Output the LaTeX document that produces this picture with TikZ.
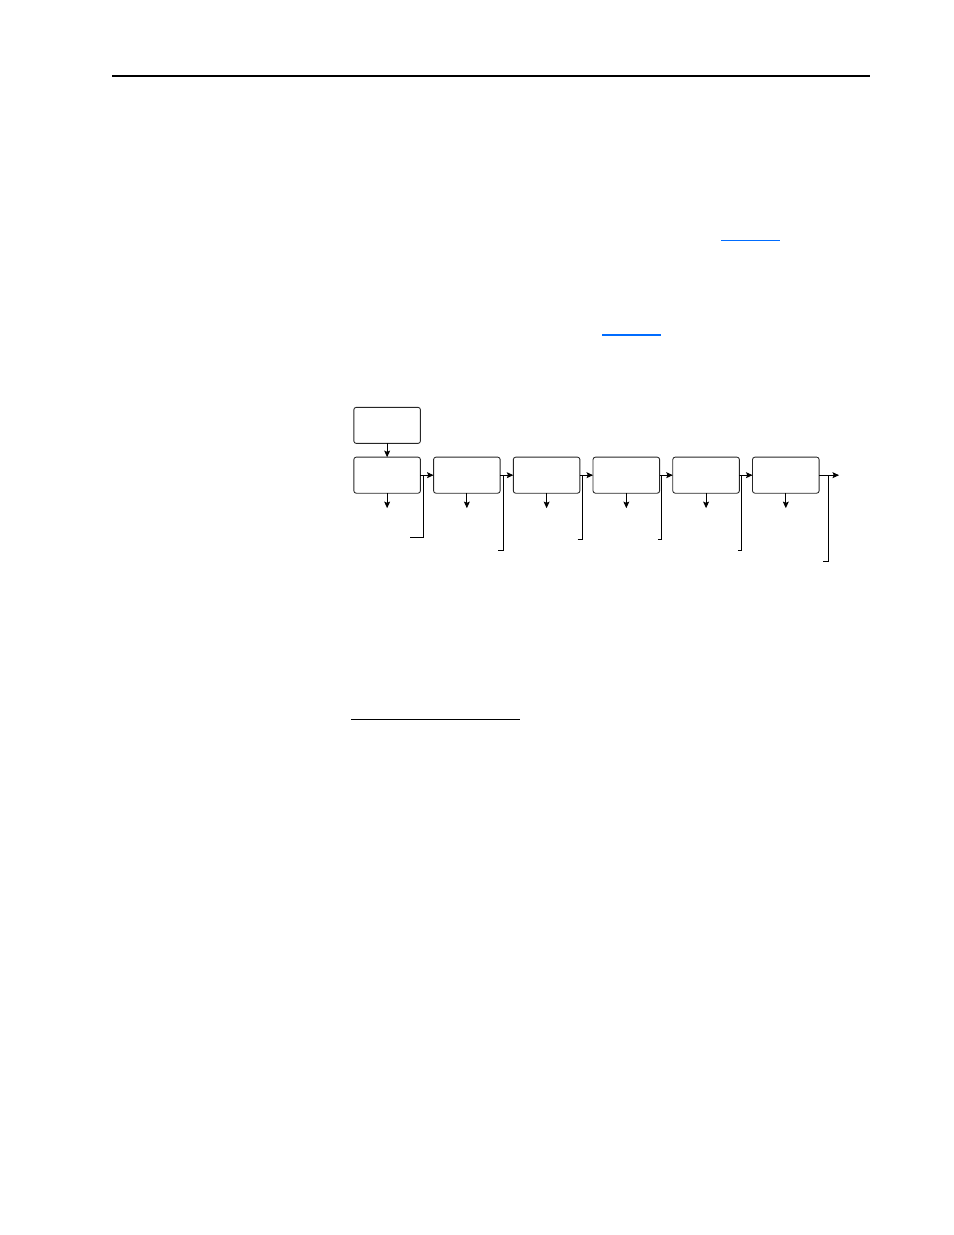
\documentclass[tikz,border=0pt]{standalone}
\usepackage{tikz}
\usetikzlibrary{matrix}
\usetikzlibrary{arrows.meta}
\definecolor{linkblue}{RGB}{0,108,255}

\begin{document}
\begin{tikzpicture}[-,>={Stealth[length=4.2pt,width=3.8pt,inset=0.8pt]},x=0.6415pt,y=-0.6415pt,line width=0.55pt]
		\useasboundingbox (0,0) rectangle (954,1235);
		% page rules and link underlines
		\draw[line width=0.9pt] (112,76) -- (870,76);
		\draw[linkblue,line width=0.8pt] (721,240.5) -- (779.5,240.5);
		\draw[linkblue,line width=0.8pt] (602,335) -- (660.5,335);
		\draw[line width=0.6pt] (351,719.3) -- (520,719.3);
		% the chain of stages
		\matrix (chain) [matrix of nodes,nodes={draw=black!85,rounded corners=1.5pt,minimum width=42.7pt,minimum height=23.1pt,inner sep=0pt,outer sep=0pt},row sep=8.3pt,column sep=7.9pt,ampersand replacement=\&,anchor=north west,inner sep=0pt] at (353,406.5)
		{
			|(src)| \\
			|(s1)| \& |(s2)| \& |(s3)| \& |(s4)| \& |(s5)| \& |(s6)| \\
		};
		\draw[->] (src) -- (s1);
		\foreach \i/\j in {1/2,2/3,3/4,4/5,5/6}
			\draw[->] (s\i) -- (s\j);
		\coordinate (end) at ([xshift=12.8pt]s6.east);
		\draw[->] (s6) -- (end);
		\foreach \i in {1,...,6} {
			\coordinate (d\i) at ([yshift=-9.6pt]s\i.south);
			\draw[->] (s\i) -- (d\i);
		}
		% feedback brackets
		\foreach \i/\dx/\dy/\tk in {1/1.9/39.8/8.3,2/1.9/48.1/3.2,3/1.8/41.1/3.2,4/1.4/41.1/2.6,5/1.6/48.1/2.6,6/5.8/55.2/3.2} {
			\coordinate (j\i) at ([xshift=\dx pt]s\i.east);
			\coordinate (b\i) at ([shift={(-\tk pt,-\dy pt)}]j\i);
			\draw (b\i) -| (j\i);
		}
\end{tikzpicture}
\end{document}
